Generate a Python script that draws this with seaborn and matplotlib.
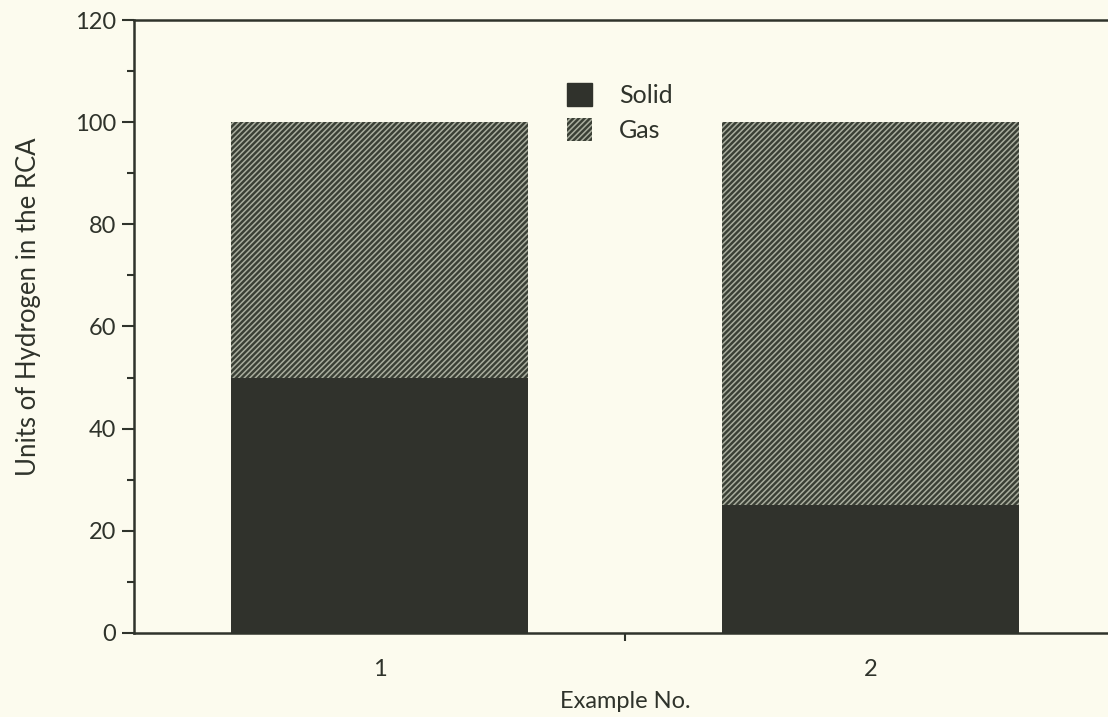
import pandas as pd
import numpy as np
import matplotlib
matplotlib.use('Agg')
from matplotlib import pyplot as plt
from matplotlib.patches import Patch
from matplotlib.ticker import MultipleLocator
import seaborn as sns

examples = ['1', '2']
solid = [50, 25]
gas = [50, 75]

df = pd.DataFrame({'example': examples, 'solid': solid, 'gas': gas})
df['total'] = df['solid'] + df['gas']

bg = '#fcfbee'
ink = '#2f332b'
solid_col = '#30322c'
gas_face = '#3a3f35'
gas_hatch = '#a9ad9e'

sns.set_style('ticks')
plt.rcParams['font.family'] = ['Lato', 'DejaVu Sans']
plt.rcParams['hatch.linewidth'] = 1.1

fig = plt.figure(figsize=(11.08, 7.17), dpi=100, facecolor=bg)
ax = fig.add_axes([0.1209, 0.1172, 0.8862, 0.8549], facecolor=bg)

# gas on top of solid: draw the total first, then solid over it
sns.barplot(data=df, x='example', y='total', color=gas_face, width=0.605,
            saturation=1, linewidth=0, ax=ax)
n = len(ax.patches)
for p in ax.patches[:n]:
    p.set_hatch('//////')
    p.set_edgecolor(gas_hatch)
    p.set_linewidth(0)
sns.barplot(data=df, x='example', y='solid', color=solid_col, width=0.605,
            saturation=1, linewidth=0, ax=ax)
for p in ax.patches[n:]:
    p.set_linewidth(0)

fs = 17
ax.set_xlim(-0.5, 1.5)
ax.set_ylim(0, 120)
ax.yaxis.set_major_locator(MultipleLocator(20))
ax.yaxis.set_minor_locator(MultipleLocator(10))
ax.set_xticks([0.5], minor=True)
ax.set_xticks([0, 1])
ax.set_xticklabels(examples)
ax.tick_params(axis='x', which='major', length=0, pad=19, labelsize=fs, colors=ink)
ax.tick_params(axis='x', which='minor', length=6, width=1.5, color=ink)
ax.tick_params(axis='y', which='major', length=9, width=1.5, labelsize=fs,
               colors=ink, pad=4)
ax.tick_params(axis='y', which='minor', length=5, width=1.5, color=ink)

for s in ['left', 'bottom', 'top']:
    ax.spines[s].set_color(ink)
    ax.spines[s].set_linewidth(1.8)
ax.spines['right'].set_visible(False)

ax.set_xlabel('Example No.', fontsize=fs, color=ink, labelpad=8)
ax.set_ylabel('Units of Hydrogen in the RCA', fontsize=18.5, color=ink)
ax.yaxis.set_label_coords(-0.095, 0.532)

handles = [Patch(facecolor=solid_col, edgecolor=solid_col, label='Solid'),
           Patch(facecolor=gas_face, edgecolor=gas_hatch, hatch='//////',
                 linewidth=0, label='Gas')]
leg = ax.legend(handles=handles, loc='upper left', bbox_to_anchor=(0.4415, 0.897),
                frameon=False, fontsize=18, handlelength=1.0, handleheight=1.0,
                handletextpad=1.05, labelspacing=0.45, borderaxespad=0,
                borderpad=0)
for t in leg.get_texts():
    t.set_color(ink)

fig.savefig('out.png', dpi=100, facecolor=bg)
